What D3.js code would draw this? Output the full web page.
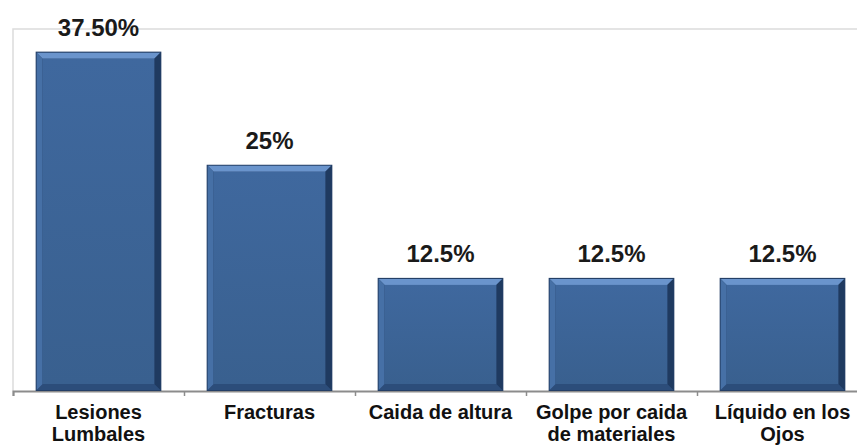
<!DOCTYPE html>
<html>
<head>
<meta charset="utf-8">
<script src="https://cdn.jsdelivr.net/npm/d3@7"></script>
<style>
  html, body { margin: 0; padding: 0; background: #fff; }
  svg { display: block; }
</style>
</head>
<body>
<svg id="chart" width="857" height="446"></svg>
<script>
const categories = [["Lesiones", "Lumbales"], ["Fracturas"], ["Caida de altura"], ["Golpe por caida", "de materiales"], ["Líquido en los", "Ojos"]];
const values = [37.5, 25, 12.5, 12.5, 12.5];
const valueLabels = ["37.50%", "25%", "12.5%", "12.5%", "12.5%"];

const svg = d3.select("#chart");
const plot = { left: 13, right: 868, top: 29, bottom: 391 };

const x = d3.scaleBand()
  .domain(d3.range(values.length))
  .range([plot.left, plot.right])
  .paddingInner(0.265)
  .paddingOuter(0.1325);
const y = d3.scaleLinear().domain([0, 40]).range([plot.bottom, plot.top]);

// plot area border (light)
svg.append("path")
  .attr("d", `M${plot.left},${plot.bottom} V${plot.top} H${plot.right}`)
  .attr("fill", "none").attr("stroke", "#dcdcdc").attr("stroke-width", 1.5);

// bottom axis
const xAxis = d3.axisBottom(d3.scaleLinear().domain([0, values.length]).range([plot.left, plot.right]))
  .ticks(values.length).tickSize(5).tickFormat("");
const ax = svg.append("g").attr("transform", `translate(0,${plot.bottom})`).call(xAxis);
ax.select(".domain").attr("stroke", "#8c8c8c").attr("stroke-width", 2);
ax.selectAll(".tick line").attr("stroke", "#8c8c8c").attr("stroke-width", 1.5);

const defs = svg.append("defs");
const lg = defs.append("linearGradient").attr("id", "face").attr("x1", 0).attr("y1", 0).attr("x2", 0).attr("y2", 1);
lg.append("stop").attr("offset", "0").attr("stop-color", "#3f689e");
lg.append("stop").attr("offset", "1").attr("stop-color", "#39608f");

// bars with bevel
const bev = 6;
const g = svg.selectAll("g.bar").data(values).enter().append("g").attr("class", "bar");
g.each(function(d, i) {
  const sel = d3.select(this);
  const x0 = x(i), x1 = x(i) + x.bandwidth();
  const y0 = y(d), y1 = y(0);
  sel.append("rect").attr("x", x0).attr("y", y0).attr("width", x1 - x0).attr("height", y1 - y0)
    .attr("fill", "#243f66");
  const a = 1; // outline
  const ox0 = x0 + a, ox1 = x1 - a, oy0 = y0 + a, oy1 = y1 - a;
  const ix0 = ox0 + bev, ix1 = ox1 - bev, iy0 = oy0 + bev, iy1 = oy1 - bev;
  const poly = (pts, fill) => sel.append("polygon").attr("points", pts.map(p => p.join(",")).join(" ")).attr("fill", fill);
  poly([[ox0, oy0], [ox1, oy0], [ix1, iy0], [ix0, iy0]], "#6a94cc");      // top
  poly([[ox1, oy0], [ox1, oy1], [ix1, iy1], [ix1, iy0]], "#1f3a60");      // right
  poly([[ox0, oy1], [ox1, oy1], [ix1, iy1], [ix0, iy1]], "#2c4d7a");      // bottom
  poly([[ox0, oy0], [ix0, iy0], [ix0, iy1], [ox0, oy1]], "#4670a6");      // left
  sel.append("rect").attr("x", ix0).attr("y", iy0).attr("width", ix1 - ix0).attr("height", iy1 - iy0)
    .attr("fill", "url(#face)");
});

// value labels
svg.selectAll("text.val").data(values).enter().append("text")
  .attr("class", "val")
  .attr("x", (d, i) => x(i) + x.bandwidth() / 2)
  .attr("y", d => y(d) - 16)
  .attr("text-anchor", "middle")
  .attr("font-family", "'Liberation Sans', Arial, sans-serif")
  .attr("font-weight", "bold")
  .attr("font-size", 24)
  .attr("fill", "#1a1a1a")
  .text((d, i) => valueLabels[i]);

// category labels
const cl = svg.selectAll("text.cat").data(categories).enter().append("text")
  .attr("class", "cat")
  .attr("text-anchor", "middle")
  .attr("font-family", "'Liberation Sans', Arial, sans-serif")
  .attr("font-weight", "bold")
  .attr("font-size", 20)
  .attr("fill", "#111");
cl.each(function(lines, i) {
  const t = d3.select(this);
  lines.forEach((ln, k) => {
    t.append("tspan").attr("x", x(i) + x.bandwidth() / 2).attr("y", 419 + k * 22).text(ln);
  });
});
</script>
</body>
</html>
